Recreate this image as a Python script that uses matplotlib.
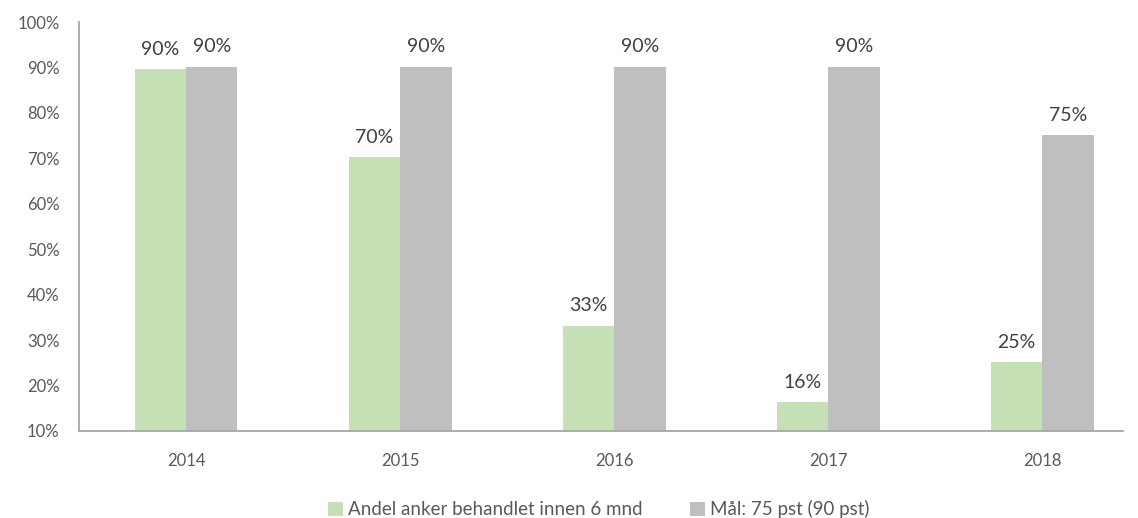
import matplotlib.pyplot as plt
import numpy as np

years = ['2014', '2015', '2016', '2017', '2018']
andel = [89.6, 70.3, 33.2, 16.4, 25.2]
maal = [90.2, 90.2, 90.2, 90.2, 75.1]
andel_labels = ['90%', '70%', '33%', '16%', '25%']
maal_labels = ['90%', '90%', '90%', '90%', '75%']

green = '#C5E0B4'
grey = '#BFBFBF'
text_col = '#595959'

plt.rcParams['font.family'] = ['Lato', 'DejaVu Sans']

fig = plt.figure(figsize=(11.38, 5.18), dpi=100)
ax = fig.add_axes([0.0694, 0.168, 0.917, 0.7895])

x = np.arange(len(years))
w = 0.24
bottom = 10
b1 = ax.bar(x - w / 2, np.array(andel) - bottom, w, bottom=bottom, color=green,
            label='Andel anker behandlet innen 6 mnd')
b2 = ax.bar(x + w / 2, np.array(maal) - bottom, w, bottom=bottom, color=grey,
            label='Mål: 75 pst (90 pst)')

for bars, labels in ((b1, andel_labels), (b2, maal_labels)):
    for rect, lab in zip(bars, labels):
        ax.annotate(lab, (rect.get_x() + rect.get_width() / 2, rect.get_y() + rect.get_height()),
                    xytext=(0, 8), textcoords='offset points', ha='center', va='bottom',
                    fontsize=14, color='#404040')

ax.set_ylim(10, 100)
ax.set_yticks(range(10, 101, 10))
ax.set_yticklabels([f'{v}%' for v in range(10, 101, 10)])
ax.set_xlim(-0.5, 4.374)
ax.set_xticks(x)
ax.set_xticklabels(years)
ax.tick_params(axis='both', length=0, labelsize=12, colors=text_col)
ax.tick_params(axis='x', pad=16)
ax.tick_params(axis='y', pad=14)

for s in ('top', 'right'):
    ax.spines[s].set_visible(False)
for s in ('left', 'bottom'):
    ax.spines[s].set_color('#A6A6A6')
    ax.spines[s].set_linewidth(1.3)

ax.legend(loc='upper center', bbox_to_anchor=(0.498, -0.128), ncol=2, frameon=False,
          fontsize=13.5, labelcolor=text_col, handlelength=0.8, handleheight=0.8,
          handletextpad=0.3, columnspacing=2.5)

fig.savefig('out.png', dpi=100)
